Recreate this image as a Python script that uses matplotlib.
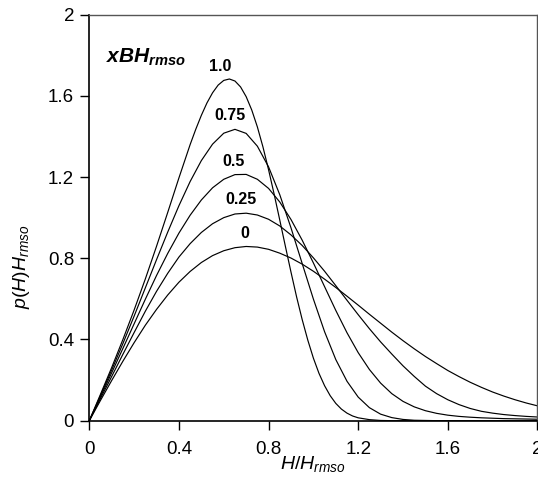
import matplotlib
matplotlib.use('Agg')
import matplotlib.pyplot as plt

plt.rcParams['font.family'] = ['Liberation Sans', 'DejaVu Sans']
plt.rcParams['mathtext.fontset'] = 'custom'
plt.rcParams['mathtext.rm'] = 'Liberation Sans'
plt.rcParams['mathtext.it'] = 'Liberation Sans:italic'
plt.rcParams['mathtext.bf'] = 'Liberation Sans:bold'
plt.rcParams['mathtext.bfit'] = 'Liberation Sans:bold:italic'

# H/Hrmso
h = [0, 0.05, 0.1, 0.15, 0.2, 0.25, 0.3, 0.35, 0.4, 0.45, 0.5, 0.55, 0.6, 0.65, 0.7,
     0.75, 0.8, 0.85, 0.9, 0.95, 1.0, 1.05, 1.1, 1.15, 1.2, 1.25, 1.3, 1.35, 1.4, 1.45,
     1.5, 1.55, 1.6, 1.65, 1.7, 1.75, 1.8, 1.85, 1.9, 1.95, 2.0]
# the 1.0 curve is steep, read it more densely
h_1 = [0, 0.05, 0.1, 0.15, 0.2, 0.25, 0.3, 0.35, 0.4, 0.45, 0.475, 0.5, 0.525, 0.55,
       0.575, 0.6, 0.625, 0.65, 0.675, 0.7, 0.725, 0.75, 0.775, 0.8, 0.825, 0.85, 0.875,
       0.9, 0.925, 0.95, 0.975, 1.0, 1.025, 1.05, 1.075, 1.1, 1.125, 1.15, 1.175, 1.2,
       1.25, 1.3, 1.35, 2.0]

# p(H)Hrmso for each xBHrmso
p_0 = [0, 0.100, 0.198, 0.293, 0.384, 0.470, 0.548, 0.619, 0.682, 0.735, 0.779, 0.813,
       0.837, 0.852, 0.858, 0.855, 0.844, 0.825, 0.801, 0.771, 0.736, 0.697, 0.656, 0.613,
       0.569, 0.524, 0.480, 0.436, 0.394, 0.354, 0.316, 0.281, 0.247, 0.217, 0.189, 0.164,
       0.141, 0.121, 0.103, 0.087, 0.073]
p_025 = [0, 0.109, 0.218, 0.327, 0.434, 0.539, 0.637, 0.726, 0.806, 0.872, 0.927, 0.970,
         1.000, 1.018, 1.022, 1.013, 0.992, 0.959, 0.915, 0.863, 0.802, 0.736, 0.665, 0.593,
         0.522, 0.453, 0.388, 0.328, 0.270, 0.218, 0.170, 0.133, 0.103, 0.079, 0.060, 0.046,
         0.037, 0.030, 0.025, 0.021, 0.018]
p_05 = [0, 0.117, 0.236, 0.356, 0.477, 0.598, 0.715, 0.824, 0.924, 1.012, 1.087, 1.147,
        1.189, 1.212, 1.213, 1.189, 1.144, 1.077, 0.991, 0.889, 0.777, 0.660, 0.543, 0.433,
        0.335, 0.252, 0.185, 0.133, 0.095, 0.068, 0.049, 0.036, 0.027, 0.021, 0.017, 0.014,
        0.012, 0.010, 0.009, 0.008, 0.007]
p_075 = [0, 0.124, 0.250, 0.380, 0.515, 0.654, 0.793, 0.929, 1.059, 1.178, 1.281, 1.362,
         1.416, 1.435, 1.415, 1.352, 1.250, 1.113, 0.950, 0.774, 0.599, 0.438, 0.301, 0.194,
         0.116, 0.064, 0.032, 0.015, 0.006, 0.002, 0.001, 0, 0, 0, 0, 0,
         0, 0, 0, 0, 0]
p_1 = [0, 0.130, 0.262, 0.400, 0.545, 0.698, 0.859, 1.026, 1.196, 1.360, 1.435, 1.504,
       1.565, 1.615, 1.653, 1.676, 1.683, 1.673, 1.644, 1.596, 1.530, 1.447, 1.348, 1.236,
       1.115, 0.988, 0.859, 0.732, 0.610, 0.498, 0.397, 0.308, 0.233, 0.172, 0.123, 0.085,
       0.057, 0.037, 0.023, 0.014, 0.005, 0.001, 0, 0]

labels = ['0', '0.25', '0.5', '0.75', '1.0']
label_pos = [(0.694, 0.923), (0.676, 1.090), (0.642, 1.279), (0.627, 1.501), (0.583, 1.744)]
ticks = [0, 0.4, 0.8, 1.2, 1.6, 2]
tick_labels = ['0', '0.4', '0.8', '1.2', '1.6', '2']

fig = plt.figure(figsize=(5.38, 4.88), dpi=100)
ax = fig.add_axes([0.166, 0.138, 0.833, 0.832])

for vals in [p_0, p_025, p_05, p_075]:
    ax.plot(h, vals, color='black', lw=0.85)
ax.plot(h_1, p_1, color='black', lw=0.85)

for lab, (lx, ly) in zip(labels, label_pos):
    ax.text(lx, ly, lab, fontsize=11.5, fontweight='bold', ha='center', va='center')

ax.text(0.075, 1.765, r'$\mathbfit{xBH}_{\mathbfit{rmso}}$', fontsize=15, va='baseline')

ax.set_xlim(0, 2)
ax.set_ylim(0, 2)
ax.set_xticks(ticks)
ax.set_xticklabels(tick_labels)
ax.set_yticks(ticks)
ax.set_yticklabels(tick_labels)
ax.tick_params(direction='out', length=6.5, width=1.0, labelsize=13.5)
ax.tick_params(axis='x', pad=8)
ax.tick_params(axis='y', pad=4.5)

for s in ['left', 'bottom']:
    ax.spines[s].set_linewidth(1.2)
for s in ['top', 'right']:
    ax.spines[s].set_linewidth(1.0)
    ax.spines[s].set_color('#555555')

fig.text(313 / 538, 1 - 464 / 488, r'$H/H_{rmso}$', fontsize=14, ha='center', va='center')
fig.text(21 / 538, 1 - 267 / 488, r'$p(H)H_{rmso}$', fontsize=14, rotation=90,
         ha='center', va='center')

fig.savefig('out.png', dpi=100)
